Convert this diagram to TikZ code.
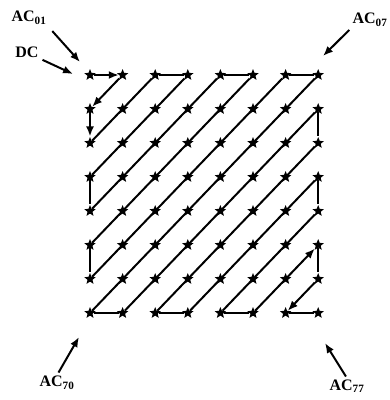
\documentclass[tikz,border=0pt]{standalone}
\usepackage{fontspec}
\setmainfont{Liberation Serif}
\usetikzlibrary{arrows.meta,shapes.geometric}

\tikzset{
  pt/.style={star, star points=5, star point ratio=2.3, fill=black,
    inner sep=0pt, minimum size=12pt},
  scan/.style={line width=2pt, black},
  lbl/.style={font=\fontsize{16}{18}\selectfont\bfseries, inner sep=1pt},
  tag/.style={line width=2pt, -{Latex[length=10pt,width=8pt]}}
}

\begin{document}
\begin{tikzpicture}[x=1pt, y=-1pt, >={Latex[length=10pt,width=8pt]}]

    % 0. Khung hình
    \useasboundingbox (0,0) rectangle (390,400);

    % 1. Lưới 8x8 các điểm (cột \c, hàng \r)
    \foreach \c in {0,...,7}
      \foreach \r in {0,...,7}
        \node[pt] (s\c-\r) at ({90+32.6*\c}, {75+34*\r}) {};

    % 2. Đường quét zigzag (nét liền)
    \foreach \a/\b in {0-2/2-0, 2-0/3-0, 3-0/0-3, 0-3/0-4, 0-4/4-0, 4-0/5-0,
        5-0/0-5, 0-5/0-6, 0-6/6-0, 6-0/7-0, 7-0/0-7, 0-7/1-7, 1-7/7-1,
        7-1/7-2, 7-2/2-7, 2-7/3-7, 3-7/7-3, 7-3/7-4, 7-4/4-7, 4-7/5-7,
        7-5/7-6, 6-7/7-7}
      \draw[scan] (s\a) -- (s\b);

    % Các đoạn có mũi tên (đầu và cuối)
    \foreach \a/\b in {0-0/1-0, 1-0/0-1, 0-1/0-2, 5-7/7-5, 7-6/6-7}
      \draw[scan, ->] (s\a) -- (s\b);

    % 3. Nhãn và mũi tên chỉ
    \node[lbl] (ac01) at (29,18)  {AC\textsubscript{01}};
    \node[lbl] (dc)   at (27,52)  {DC};
    \node[lbl] (ac07) at (370,20) {AC\textsubscript{07}};
    \node[lbl] (ac70) at (57,383) {AC\textsubscript{70}};
    \node[lbl] (ac77) at (347,386) {AC\textsubscript{77}};

    \coordinate (t01) at (80,62);
    \coordinate (tdc) at (73,74);
    \coordinate (t07) at (323,56);
    \coordinate (t70) at (79,337);
    \coordinate (t77) at (325,343);

    \draw[tag, shorten <=7pt] (ac01.south east) -- (t01);
    \draw[tag, shorten <=3pt] (dc.south east) -- (tdc);
    \draw[tag, shorten <=3pt] (ac07.south west) -- (t07);
    \draw[tag, shorten <=3pt] (ac70.north) -- (t70);
    \draw[tag, shorten <=2pt] (ac77.north) -- (t77);

\end{tikzpicture}
\end{document}
